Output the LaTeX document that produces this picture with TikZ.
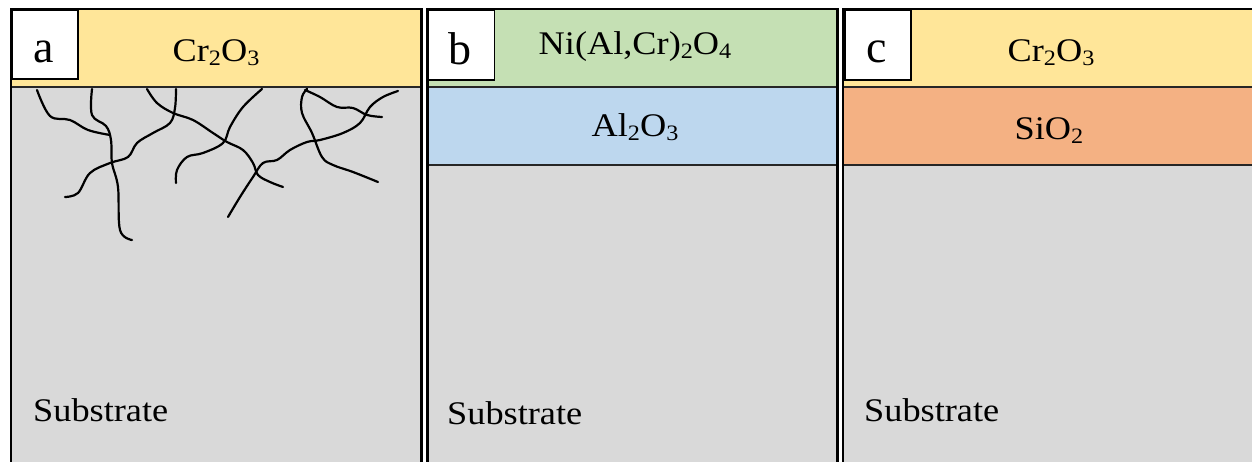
\documentclass[tikz,border=0pt]{standalone}
\usepackage{graphicx}
\usepackage{fontspec}
\setmainfont{Liberation Serif}
% chemical subscripts, lowered and smaller
\newcommand\lowsub[1]{\raisebox{-4pt}{\fontsize{22}{22}\selectfont #1}}
\newcommand\wide[1]{\scalebox{1.1}[1]{#1}}
\definecolor{oxyellow}{HTML}{FFE699}
\definecolor{oxgreen}{HTML}{C5E0B4}
\definecolor{oxblue}{HTML}{BDD7EE}
\definecolor{oxorange}{HTML}{F4B183}
\definecolor{metal}{HTML}{D9D9D9}
\tikzset{
  layertext/.style={font=\fontsize{33}{36}\selectfont, anchor=base, inner sep=0pt},
  basetext/.style={font=\fontsize{33}{36}\selectfont, anchor=base west, inner sep=0pt},
  tag/.style={font=\fontsize{46}{50}\selectfont, anchor=base, inner sep=0pt},
  tagbox/.style={fill=white, draw=black, line width=1.6pt},
  frame/.style={line width=2.8pt, line cap=rect},
  seam/.style={line width=2pt, draw=black!85},
  crack/.style={line width=2.2pt, line cap=round, line join=round, smooth, tension=0.6},
}
\begin{document}
\begin{tikzpicture}[x=1pt,y=-1pt]
\useasboundingbox (0,0) rectangle (1252,462);
\clip (0,0) rectangle (1252,462);

% ---------- panel a : Cr2O3 scale with cracks ----------
\fill[metal] (11,9) rectangle (421.5,480);
\fill[oxyellow] (11,9) rectangle (421.5,87);
\draw[seam] (11,87) -- (421.5,87);
\draw[crack] plot coordinates {(37,90) (50,116) (70,120) (88,130) (110,135)};
\draw[crack] plot coordinates {(92,89) (92,115) (106,126) (111,140) (112,163) (118,187) (120,230) (132,240)};
\draw[crack] plot coordinates {(65,197) (78,193) (90,173) (110,163) (128,157) (137,143) (153,133) (170,123) (175,108) (176,89)};
\draw[crack] plot coordinates {(147,89) (157,103) (173,113) (193,120) (213,133) (227,142) (243,150) (253,163) (258,175) (270,182) (283,187)};
\draw[crack] plot coordinates {(262,89) (243,107) (230,127) (223,143) (203,153) (187,157) (177,170) (176,183)};
\draw[crack] plot coordinates {(228,217) (240,197) (253,177) (263,163) (277,160) (290,150) (307,142) (320,140) (343,133) (360,123) (370,107) (383,97) (398,91)};
\draw[crack] plot coordinates {(307,89) (302,97) (302,113) (312,133) (322,157) (333,165) (353,172) (378,182)};
\draw[crack] plot coordinates {(305,90) (320,97) (337,107) (353,108) (367,115) (382,117)};
\draw[frame] (11,480) -- (11,9) -- (421.5,9) -- (421.5,480);
\node[tagbox, minimum width=66pt, minimum height=69pt, inner sep=0pt, anchor=north west] (taga) at (11,9) {};
\node[tag] (la) at (44,63) {a};
\node[layertext] (ta) at (216,62) {\wide{Cr\lowsub{2}O\lowsub{3}}};
\node[basetext] (sa) at (33,421) {\wide{Substrate}};

% ---------- panel b : spinel over alumina ----------
\fill[metal] (427.5,9) rectangle (837.5,480);
\fill[oxgreen] (427.5,9) rectangle (837.5,87);
\fill[oxblue] (427.5,87) rectangle (837.5,165);
\draw[seam] (427.5,87) -- (837.5,87);
\draw[seam] (427.5,165) -- (837.5,165);
\draw[frame] (427.5,480) -- (427.5,9) -- (837.5,9) -- (837.5,480);
\node[tagbox, minimum width=66pt, minimum height=70pt, inner sep=0pt, anchor=north west] (tagb) at (427.5,9) {};
\node[tag] (lb) at (460,65) {b};
\node[layertext] (tb1) at (635,55) {\wide{Ni(Al,Cr)\lowsub{2}O\lowsub{4}}};
\node[layertext] (tb2) at (635,137) {\wide{Al\lowsub{2}O\lowsub{3}}};
\node[basetext] (sb) at (447,424) {\wide{Substrate}};

% ---------- panel c : chromia over silica ----------
\fill[metal] (843,9) rectangle (1262,480);
\fill[oxyellow] (843,9) rectangle (1262,87);
\fill[oxorange] (843,87) rectangle (1262,165);
\draw[seam] (843,87) -- (1262,87);
\draw[seam] (843,165) -- (1262,165);
\draw[frame] (843,480) -- (843,9) -- (1262,9);
\node[tagbox, minimum width=66pt, minimum height=70pt, inner sep=0pt, anchor=north west] (tagc) at (844,9) {};
\node[tag] (lc) at (877,63) {c};
\node[layertext] (tc1) at (1051,62) {\wide{Cr\lowsub{2}O\lowsub{3}}};
\node[layertext] (tc2) at (1049,140) {\wide{SiO\lowsub{2}}};
\node[basetext] (sc) at (864,421) {\wide{Substrate}};
\end{tikzpicture}
\end{document}
